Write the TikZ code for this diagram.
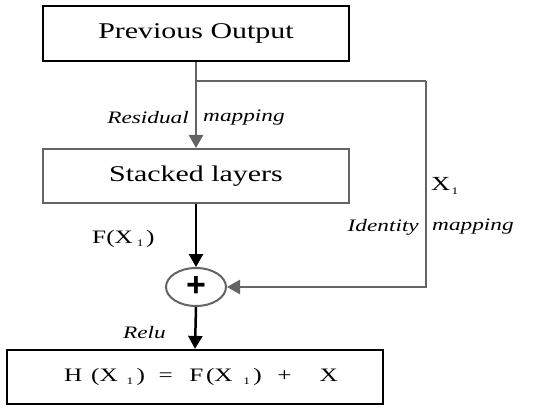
\documentclass[tikz,border=0pt]{standalone}
\usepackage{fontspec}
\setmainfont{Liberation Serif}
\newfontfamily\plusfont{Liberation Sans}
\usetikzlibrary{arrows.meta,shapes.geometric}
\newcommand{\wideit}[1]{\scalebox{1.33}[1]{#1}}
\newcommand{\subone}[1]{\raisebox{-0.35ex}{\fontsize{10}{10}\selectfont #1}}
\definecolor{lgray}{HTML}{646464}
\tikzset{
  boxthick/.style={draw=black, line width=2.2pt, rectangle, minimum width=306pt, inner sep=0pt},
  boxgray/.style={draw=lgray, line width=2pt, rectangle, minimum width=306pt, minimum height=54pt, inner sep=0pt},
  garrow/.style={draw=lgray, line width=2.5pt, -{Triangle[width=14pt,length=13pt]}},
  barrow/.style={draw=black, line width=2.5pt, -{Triangle[width=14pt,length=13pt]}},
  gline/.style={draw=lgray, line width=2.5pt},
  lbl/.style={inner sep=0pt, font=\fontsize{17.5}{20}\selectfont\itshape},
  big/.style={font=\fontsize{22.5}{26}\selectfont},
}
\begin{document}
\begin{tikzpicture}[x=1pt,y=-1pt]
\useasboundingbox (0,0) rectangle (550,412);
\node[boxthick, minimum height=55pt, big] (prev) at (196,33.5) {\wideit{Previous Output}};
\node[boxgray, big] (stack) at (196,176) {\wideit{Stacked layers}};
\node[ellipse, draw=lgray, line width=2pt, minimum width=60pt, minimum height=38pt, inner sep=0pt] (plus) at (196,287) {\plusfont\fontsize{34}{34}\selectfont\bfseries +};
\node[boxthick, minimum width=376pt, minimum height=54pt, font=\fontsize{19}{22}\selectfont] (out) at (195,377) {\hspace*{12pt}\raisebox{-5pt}{\wideit{H\hspace{6.6pt}(X\hspace{6.6pt}\subone{1}\hspace{2.5pt})\hspace{10.2pt}=\hspace{12.5pt}F\hspace{1.9pt}(X\hspace{8.1pt}\subone{1}\hspace{2.5pt})\hspace{11.7pt}+\hspace{21pt}X}}};
\coordinate (split) at (196,81);
\coordinate (c1) at (426,81);
\draw[garrow] (prev.south) -- (stack.north);
\draw[gline] (split) -- (c1);
\draw[garrow] (c1) |- (plus.east);
\draw[barrow] (stack.south) -- (plus.north);
\draw[barrow] (plus.south) -- (out.north);
\node[lbl, anchor=east] (res1) at (189,118) {\wideit{Residual}};
\node[lbl, anchor=west] (res2) at (203,118) {\wideit{mapping}};
\node[lbl, anchor=east] (id1) at (419,227) {\wideit{Identity}};
\node[lbl, anchor=west] (id2) at (432,227) {\wideit{mapping}};
\node[lbl, anchor=east] (relu) at (166,333) {\wideit{Relu}};
\node[inner sep=0pt, anchor=west, font=\fontsize{20}{22}\selectfont] (x1) at (431,186) {\wideit{X\hspace{1pt}\subone{1}}};
\node[inner sep=0pt, anchor=west, font=\fontsize{19}{22}\selectfont] (fx) at (92,239) {\wideit{F(X\hspace{3pt}\subone{1}\hspace{2pt})}};
\end{tikzpicture}
\end{document}
